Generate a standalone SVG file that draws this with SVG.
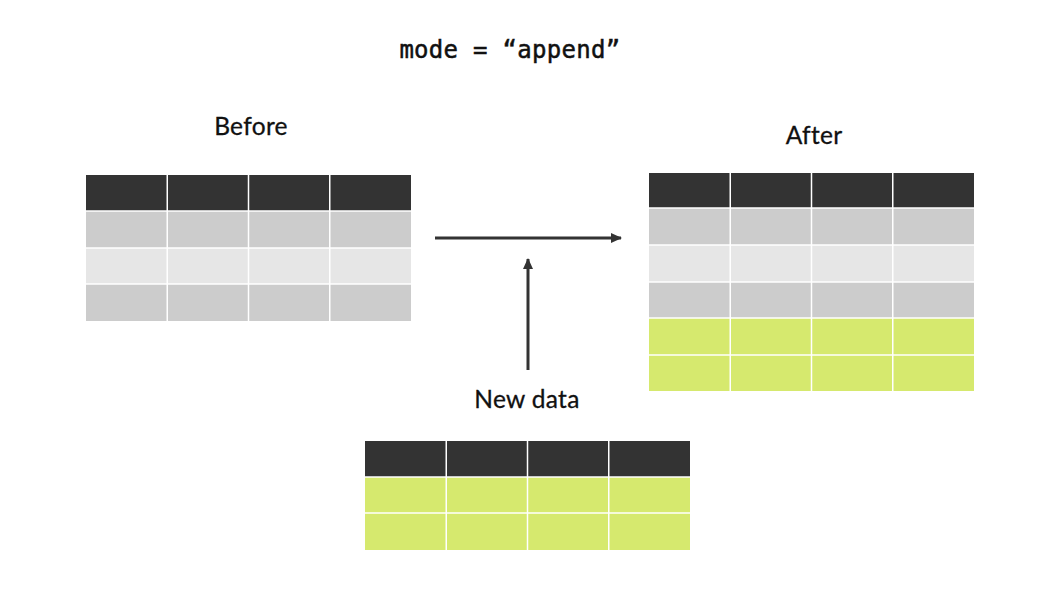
<svg xmlns="http://www.w3.org/2000/svg" width="1058" height="595" viewBox="0 0 1058 595">
<style>
.h{fill:#333333}
.g1{fill:#cccccc}
.g2{fill:#e6e6e6}
.gr{fill:#d6e96e}
.grid{stroke:#ffffff;stroke-width:1.5}
.lbl{font-family:Lato,"Noto Sans",sans-serif;font-size:24.5px;fill:#111;text-anchor:middle;letter-spacing:0.3px;stroke:#111;stroke-width:0.3px}
.code{font-family:"DejaVu Sans Mono","Liberation Mono",monospace;font-size:24px;fill:#111;text-anchor:middle;stroke:#111;stroke-width:0.5px}
.conn{stroke:#333333;stroke-width:3;fill:none}
</style>
<defs>
<marker id="ah" markerWidth="12" markerHeight="12" refX="10" refY="6" orient="auto" markerUnits="userSpaceOnUse">
<path d="M0,1 L11,6 L0,11 Z" fill="#333333"/>
</marker>
</defs>
<rect width="1058" height="595" fill="#ffffff"/>
<text class="code" x="510" y="58" letter-spacing="0.3">mode = “append”</text>

<g id="before">
<text class="lbl" x="251" y="135">Before</text>
<rect class="h" x="86" y="175" width="325" height="36"/>
<rect class="g1" x="86" y="211" width="325" height="37"/>
<rect class="g2" x="86" y="248" width="325" height="36"/>
<rect class="g1" x="86" y="284" width="325" height="37"/>
<g class="grid">
<line x1="167.25" y1="175" x2="167.25" y2="321"/>
<line x1="248.5" y1="175" x2="248.5" y2="321"/>
<line x1="329.75" y1="175" x2="329.75" y2="321"/>
<line x1="86" y1="211" x2="411" y2="211"/>
<line x1="86" y1="248" x2="411" y2="248"/>
<line x1="86" y1="284" x2="411" y2="284"/>
</g>
</g>

<g id="after">
<text class="lbl" x="814" y="144">After</text>
<rect class="h" x="649" y="173" width="325" height="35"/>
<rect class="g1" x="649" y="208" width="325" height="37"/>
<rect class="g2" x="649" y="245" width="325" height="37"/>
<rect class="g1" x="649" y="282" width="325" height="36"/>
<rect class="gr" x="649" y="318" width="325" height="37"/>
<rect class="gr" x="649" y="355" width="325" height="36"/>
<g class="grid">
<line x1="730.25" y1="173" x2="730.25" y2="391"/>
<line x1="811.5" y1="173" x2="811.5" y2="391"/>
<line x1="892.75" y1="173" x2="892.75" y2="391"/>
<line x1="649" y1="208" x2="974" y2="208"/>
<line x1="649" y1="245" x2="974" y2="245"/>
<line x1="649" y1="282" x2="974" y2="282"/>
<line x1="649" y1="318" x2="974" y2="318"/>
<line x1="649" y1="355" x2="974" y2="355"/>
</g>
</g>

<g id="newdata">
<text class="lbl" x="527" y="408">New data</text>
<rect class="h" x="365" y="441" width="325" height="36"/>
<rect class="gr" x="365" y="477" width="325" height="36"/>
<rect class="gr" x="365" y="513" width="325" height="37"/>
<g class="grid">
<line x1="446.25" y1="441" x2="446.25" y2="550"/>
<line x1="527.5" y1="441" x2="527.5" y2="550"/>
<line x1="608.75" y1="441" x2="608.75" y2="550"/>
<line x1="365" y1="477" x2="690" y2="477"/>
<line x1="365" y1="513" x2="690" y2="513"/>
</g>
</g>

<g id="connectors">
<line class="conn" x1="435" y1="238" x2="621" y2="238" marker-end="url(#ah)"/>
<line class="conn" x1="528" y1="370" x2="528" y2="259" marker-end="url(#ah)"/>
</g>
</svg>
